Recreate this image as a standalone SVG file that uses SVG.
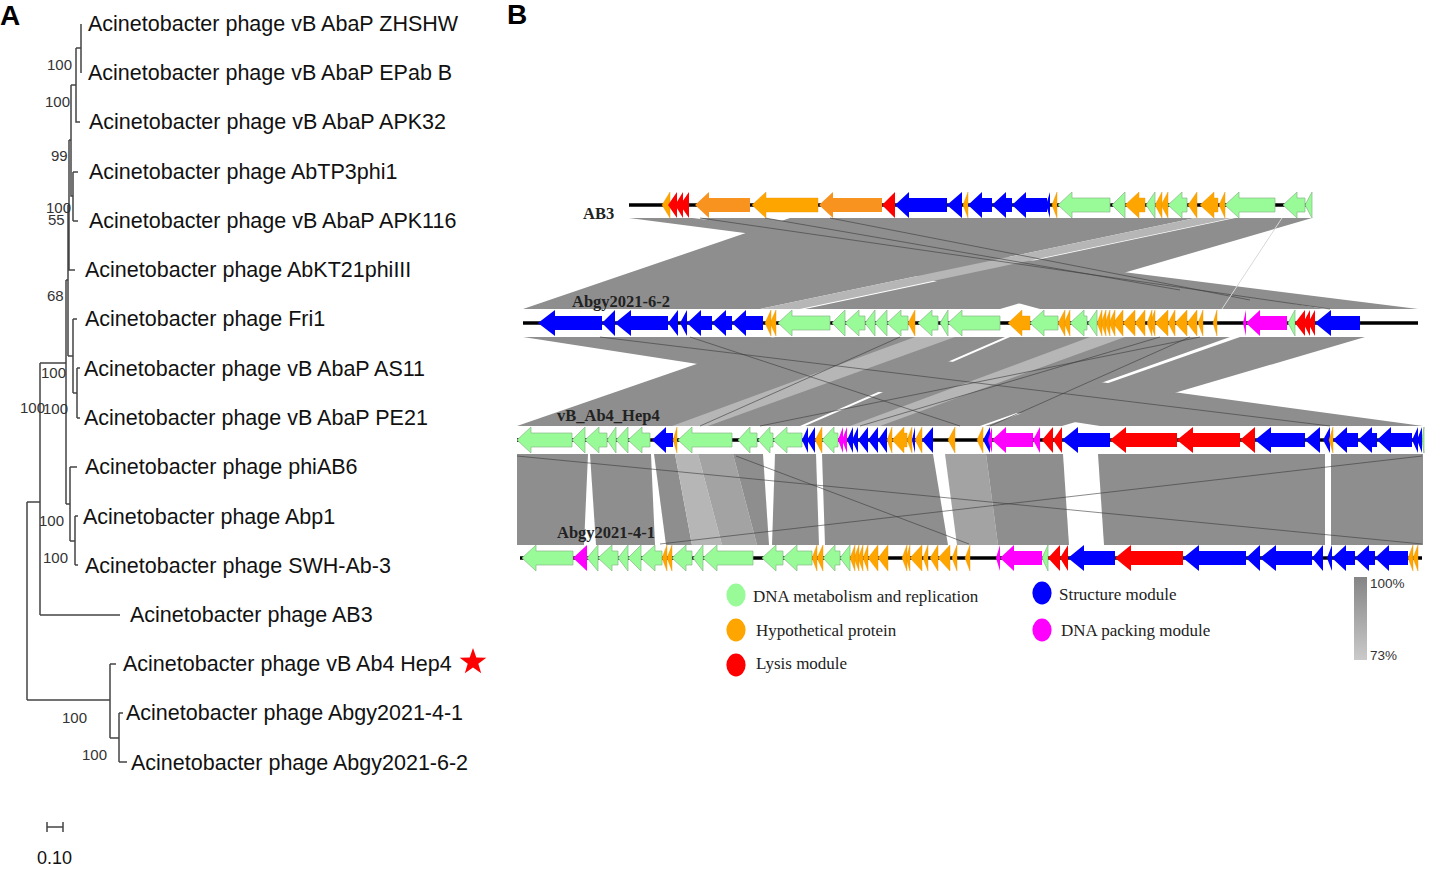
<svg xmlns="http://www.w3.org/2000/svg" width="1432" height="872" viewBox="0 0 1432 872">
<style>
.tr{stroke:#444;stroke-width:1.5;fill:none}
.tip{font-family:"Liberation Sans",Arial,sans-serif;font-size:21.5px;fill:#111}
.bs{font-family:"Liberation Sans",Arial,sans-serif;font-size:15px;fill:#333}
.pl{font-family:"Liberation Sans",Arial,sans-serif;font-size:28px;font-weight:bold;fill:#000}
.g{fill:#98fb98;stroke:#86b886;stroke-width:.7}
.o{fill:#ffa500;stroke:#e89400;stroke-width:.4}
.od{fill:#f7931e}
.r{fill:#ff0000}
.b{fill:#0000ff}
.m{fill:#ff00ff}
.bb{stroke:#000;stroke-width:3.5}
.rb{fill:#8e8e8e}
.rl{fill:#b6b6b6}
.rm{fill:#a3a3a3}
.ln{stroke:#3a3a3a;stroke-width:.8;fill:none;opacity:.75}
.lnw{stroke:#d8d8d8;stroke-width:1;fill:none}
.lab{font-family:"Liberation Serif","Times New Roman",serif;font-size:16.5px;font-weight:bold;fill:#222}
.leg{font-family:"Liberation Serif","Times New Roman",serif;font-size:17px;fill:#222}
.pct{font-family:"Liberation Sans",Arial,sans-serif;font-size:13.5px;fill:#333}
</style>
<defs>
<linearGradient id="idg" x1="0" y1="0" x2="0" y2="1">
<stop offset="0" stop-color="#858585"/>
<stop offset="1" stop-color="#cacaca"/>
</linearGradient>
</defs>
<rect width="1432" height="872" fill="#fff"/>

<g id="panelA">
<text class="pl" x="0" y="25">A</text>
<g id="tree-connectors" class="tr">
<path d="M81 24V73M76 48H81M76 48V122H80M71 85H76M73 172V221M73 172H78M73 221H78M71 85V196H73M69 140H71M69 140V270H75M68 205V356M68 205H69M68 356H73M73 319V393M73 319H77M73 393H77M77 368V418M77 368H80M77 418H80M66 280V504M66 280H68M66 504H70M70 467V541M70 467H77M70 541H75M75 516V565M75 516H78M75 565H78M40 363V615M40 363H66M40 615H120M27 502V700M27 502H40M27 700H110M110 664V738M110 664H116M110 738H119M119 713V762M119 713H123M119 762H127"/>
</g>
<g id="bootstrap">
<text class="bs" x="47" y="70">100</text>
<text class="bs" x="45" y="107">100</text>
<text class="bs" x="51" y="161">99</text>
<text class="bs" x="46" y="213">100</text>
<text class="bs" x="48" y="225">55</text>
<text class="bs" x="47" y="301">68</text>
<text class="bs" x="41" y="378">100</text>
<text class="bs" x="20" y="413">100</text>
<text class="bs" x="43" y="414">100</text>
<text class="bs" x="39" y="526">100</text>
<text class="bs" x="43" y="563">100</text>
<text class="bs" x="62" y="723">100</text>
<text class="bs" x="82" y="760">100</text>
</g>
<g id="leaf-ZHSHW"><text class="tip" x="88" y="31">Acinetobacter phage vB AbaP ZHSHW</text></g>
<g id="leaf-EPabB"><text class="tip" x="88" y="80">Acinetobacter phage vB AbaP EPab B</text></g>
<g id="leaf-APK32"><text class="tip" x="89" y="129">Acinetobacter phage vB AbaP APK32</text></g>
<g id="leaf-AbTP3phi1"><text class="tip" x="89" y="179">Acinetobacter phage AbTP3phi1</text></g>
<g id="leaf-APK116"><text class="tip" x="89" y="228">Acinetobacter phage vB AbaP APK116</text></g>
<g id="leaf-AbKT21phiIII"><text class="tip" x="85" y="277">Acinetobacter phage AbKT21phiIII</text></g>
<g id="leaf-Fri1"><text class="tip" x="85" y="326">Acinetobacter phage Fri1</text></g>
<g id="leaf-AS11"><text class="tip" x="84" y="376">Acinetobacter phage vB AbaP AS11</text></g>
<g id="leaf-PE21"><text class="tip" x="84" y="425">Acinetobacter phage vB AbaP PE21</text></g>
<g id="leaf-phiAB6"><text class="tip" x="85" y="474">Acinetobacter phage phiAB6</text></g>
<g id="leaf-Abp1"><text class="tip" x="83" y="524">Acinetobacter phage Abp1</text></g>
<g id="leaf-SWH"><text class="tip" x="85" y="573">Acinetobacter phage SWH-Ab-3</text></g>
<g id="leaf-AB3"><text class="tip" x="130" y="622">Acinetobacter phage AB3</text></g>
<g id="leaf-Hep4"><text class="tip" x="123" y="671">Acinetobacter phage vB Ab4 Hep4</text>
<polygon fill="#ff0000" transform="translate(2,0)" points="471,648 474.3,657.5 484.3,657.7 476.3,663.7 479.2,673.3 471,667.6 462.8,673.3 465.7,663.7 457.7,657.7 467.7,657.5"/></g>
<g id="leaf-Abgy2021-4-1"><text class="tip" x="126" y="720">Acinetobacter phage Abgy2021-4-1</text></g>
<g id="leaf-Abgy2021-6-2"><text class="tip" x="131" y="770">Acinetobacter phage Abgy2021-6-2</text></g>
<g id="scalebar">
<path class="tr" d="M47 827H63M47 822V832M63 822V832"/>
<text class="tip" style="font-size:18px" x="37" y="864">0.10</text>
</g>
</g>

<g id="panelB">
<text class="pl" x="507" y="24">B</text>
<g id="connectors">
<g id="ribbons-AB3-6-2">
<polygon class="rb" points="629,218 693,218 1418,309 1330,309"/>
<polygon class="rb" points="700,218 765,218 1325,309 1040,309"/>
<polygon class="rb" points="790,218 1195,218 760,309 523,309"/>
<polygon class="rb" points="1235,218 1312,218 1000,309 805,309"/>
<polygon class="rl" points="1195,218 1232,218 800,309 760,309"/>
<path class="ln" d="M700 218L1330 309M765 218L1180 290M830 218L1250 300"/>
<path class="lnw" d="M1282 218L1222 309"/>
</g>
<g id="ribbons-6-2-Hep4">
<polygon class="rb" points="523,337 770,337 1423,426 1100,426"/>
<polygon class="rb" points="775,337 1005,337 800,426 517,426"/>
<polygon class="rb" points="1010,337 1230,337 980,426 805,426"/>
<polygon class="rb" points="1240,337 1365,337 1062,426 985,426"/>
<polygon class="rl" points="915,337 955,337 708,426 672,426"/>
<polygon class="rl" points="1090,337 1125,337 880,426 850,426"/>
<path class="ln" d="M600 337L1330 426M900 337L700 426M1200 337L760 426M1190 337L990 426M690 337L960 426M1160 337L860 426"/>
</g>
<g id="ribbons-Hep4-4-1">
<polygon class="rb" points="517,454 588,454 584,545 517,545"/>
<polygon class="rb" points="590,454 651,454 655,545 596,545"/>
<polygon class="rb" points="654,454 675,454 692,545 666,545"/>
<polygon class="rl" points="675,454 698,454 722,545 692,545"/>
<polygon class="rm" points="698,454 733,454 757,545 722,545"/>
<polygon class="rb" points="733,454 763,454 769,545 757,545"/>
<polygon class="rb" points="775,454 816,454 819,545 772,545"/>
<polygon class="rb" points="822,454 933,454 948,545 825,545"/>
<polygon class="rm" points="945,454 986,454 998,545 957,545"/>
<polygon class="rb" points="986,454 1063,454 1069,545 998,545"/>
<polygon class="rb" points="1098,454 1325,454 1325,545 1104,545"/>
<polygon class="rb" points="1331,454 1423,454 1423,545 1331,545"/>
<path class="ln" d="M517 456L1422 544M660 544L1422 456M736 456L969 544"/>
</g>
</g>

<g id="track-AB3" transform="translate(0,205)">
<path class="bb" d="M629 0H1312"/>
<path class="od" d="M695 0L709-13V-7H750V7H709V13zM819 0L833-13V-7H882V7H833V13z"/>
<path class="o" d="M662 0L670-13V13zM752 0L766-13V-7H818V7H766V13zM963 0L968-13V13zM1052 0L1057-13V13zM1125 0L1139-13V-7H1145V7H1139V13zM1155 0L1162-13V13zM1161 0L1168-13V13zM1188 0L1197-13V13zM1200 0L1214-13V-7H1218V7H1214V13zM1219 0L1225-13V13z"/>
<path class="r" d="M668 0L677-13V13zM675 0L683-13V13zM680 0L689-13V13zM882 0L895-13V13z"/>
<path class="b" d="M895 0L909-13V-7H947V7H909V13zM947 0L962-13V13zM968 0L982-13V-7H992V7H982V13zM992 0L1006-13V-7H1012V7H1006V13zM1012 0L1026-13V-7H1047V7H1026V13zM1046 0L1050-13V13z"/>
<path class="g" d="M1058 0L1072-13V-7H1110V7H1072V13zM1112 0L1125-13V13zM1146 0L1155-13V13zM1168 0L1182-13V-7H1187V7H1182V13zM1225 0L1239-13V-7H1275V7H1239V13zM1283 0L1297-13V-7H1305V7H1297V13zM1305 0L1312-13V13z"/>
</g>

<g id="track-Abgy2021-6-2" transform="translate(0,323)">
<path class="bb" d="M523 0H1418"/>
<path class="b" d="M538 0L555-13V-7H602V7H555V13zM602 0L615-13V13zM615 0L631-13V-7H668V7H631V13zM668 0L678-13V13zM680 0L687-13V13zM687 0L701-13V-7H712V7H701V13zM712 0L726-13V-7H732V7H726V13zM732 0L746-13V-7H763V7H746V13zM1315 0L1331-13V-7H1360V7H1331V13z"/>
<path class="o" d="M765 0L771-13V13zM770 0L776-13V13zM908 0L915-13V13zM1008 0L1022-13V-7H1030V7H1022V13zM1058 0L1065-13V13zM1064 0L1070-13V13zM1097 0L1102-13V13zM1101 0L1106-13V13zM1105 0L1110-13V13zM1109 0L1115-13V13zM1113 0L1123-13V13zM1123 0L1135-13V13zM1135 0L1145-13V13zM1147 0L1152-13V13zM1150 0L1155-13V13zM1155 0L1168-13V13zM1168 0L1175-13V13zM1175 0L1187-13V13zM1187 0L1197-13V13zM1198 0L1203-13V13zM1213 0L1217-13V13z"/>
<path class="g" d="M778 0L792-13V-7H830V7H792V13zM832 0L845-13V13zM845 0L859-13V-7H865V7H859V13zM865 0L875-13V13zM875 0L887-13V13zM887 0L901-13V-7H908V7H901V13zM918 0L932-13V-7H938V7H932V13zM940 0L948-13V13zM948 0L962-13V-7H1000V7H962V13zM1030 0L1044-13V-7H1058V7H1044V13zM1070 0L1084-13V-7H1087V7H1084V13zM1088 0L1097-13V13zM1288 0L1295-13V13z"/>
<path class="m" d="M1243 0L1246-13V13zM1246 0L1260-13V-7H1287V7H1260V13z"/>
<path class="r" d="M1295 0L1305-13V13zM1303 0L1310-13V13zM1308 0L1315-13V13z"/>
</g>

<g id="track-vB_Ab4_Hep4" transform="translate(0,440)">
<path class="bb" d="M517 0H1423"/>
<path class="g" d="M517 0L531-13V-7H572V7H531V13zM572 0L585-13V13zM585 0L599-13V-7H607V7H599V13zM607 0L616-13V13zM616 0L628-13V13zM628 0L642-13V-7H650V7H642V13zM678 0L692-13V-7H732V7H692V13zM738 0L750-13V-7H757V7H750V13zM758 0L770-13V-7H773V7H770V13zM773 0L787-13V-7H802V7H787V13zM822 0L834-13V-7H838V7H834V13zM1422 0L1424-13V13z"/>
<path class="b" d="M652 0L666-13V-7H673V7H666V13zM802 0L808-13V13zM807 0L815-13V13zM847 0L853-13V13zM852 0L858-13V13zM858 0L868-13V13zM868 0L878-13V13zM878 0L887-13V13zM912 0L915-13V13zM922 0L933-13V13zM983 0L990-13V13zM1062 0L1078-13V-7H1110V7H1078V13zM1255 0L1271-13V-7H1305V7H1271V13zM1305 0L1320-13V13zM1323 0L1330-13V13zM1333 0L1347-13V-7H1358V7H1347V13zM1358 0L1372-13V-7H1377V7H1372V13zM1377 0L1391-13V-7H1412V7H1391V13zM1412 0L1418-13V13zM1417 0L1422-13V13z"/>
<path class="o" d="M673 0L677-13V13zM815 0L822-13V13zM887 0L892-13V13zM892 0L904-13V-7H907V7H904V13zM907 0L912-13V13zM915 0L922-13V13zM948 0L955-13V13zM977 0L983-13V13zM1329 0L1333-13V13z"/>
<path class="m" d="M838 0L843-13V13zM842 0L847-13V13zM988 0L992-13V13zM992 0L1006-13V-7H1033V7H1006V13zM1033 0L1040-13V13z"/>
<path class="r" d="M1042 0L1053-13V13zM1053 0L1062-13V13zM1110 0L1126-13V-7H1177V7H1126V13zM1177 0L1193-13V-7H1240V7H1193V13zM1240 0L1255-13V13z"/>
</g>

<g id="track-Abgy2021-4-1" transform="translate(0,558)">
<path class="bb" d="M520 0H1422"/>
<path class="g" d="M522 0L536-13V-7H573V7H536V13zM587 0L598-13V13zM598 0L612-13V-7H618V7H612V13zM618 0L628-13V13zM628 0L641-13V13zM641 0L655-13V-7H662V7H655V13zM672 0L686-13V-7H692V7H686V13zM693 0L703-13V13zM703 0L717-13V-7H753V7H717V13zM762 0L776-13V-7H783V7H776V13zM783 0L797-13V-7H812V7H797V13zM823 0L835-13V-7H840V7H835V13zM840 0L850-13V13zM1042 0L1048-13V13z"/>
<path class="m" d="M573 0L587-13V13zM996 0L1000-13V13zM1000 0L1014-13V-7H1042V7H1014V13z"/>
<path class="o" d="M662 0L667-13V13zM667 0L672-13V13zM812 0L817-13V13zM817 0L823-13V13zM850 0L855-13V13zM854 0L859-13V13zM858 0L863-13V13zM863 0L868-13V13zM868 0L878-13V13zM878 0L888-13V13zM902 0L907-13V13zM906 0L910-13V13zM910 0L922-13V13zM923 0L928-13V13zM930 0L938-13V13zM938 0L950-13V13zM952 0L957-13V13zM965 0L970-13V13zM1408 0L1413-13V13zM1413 0L1418-13V13z"/>
<path class="r" d="M1048 0L1060-13V13zM1060 0L1068-13V13zM1115 0L1131-13V-7H1183V7H1131V13z"/>
<path class="b" d="M1068 0L1084-13V-7H1115V7H1084V13zM1183 0L1199-13V-7H1246V7H1199V13zM1246 0L1260-13V13zM1260 0L1276-13V-7H1312V7H1276V13zM1312 0L1323-13V13zM1327 0L1332-13V13zM1332 0L1346-13V-7H1355V7H1346V13zM1355 0L1369-13V-7H1375V7H1369V13zM1375 0L1389-13V-7H1408V7H1389V13z"/>
</g>

<g id="track-labels">
<text class="lab" x="583" y="219">AB3</text>
<text class="lab" x="572" y="307">Abgy2021-6-2</text>
<text class="lab" x="557" y="421">vB_Ab4_Hep4</text>
<text class="lab" x="557" y="538">Abgy2021-4-1</text>
</g>

<g id="legend">
<g id="leg-dna"><ellipse cx="736" cy="595" rx="9.6" ry="11.4" fill="#98fb98"/><text class="leg" x="753" y="602">DNA metabolism and replication</text></g>
<g id="leg-hyp"><ellipse cx="736" cy="630" rx="9.6" ry="11.4" fill="#ffa500"/><text class="leg" x="756" y="636">Hypothetical protein</text></g>
<g id="leg-lysis"><ellipse cx="736" cy="665" rx="9.6" ry="11.4" fill="#ff0000"/><text class="leg" x="756" y="669">Lysis module</text></g>
<g id="leg-struct"><ellipse cx="1042" cy="593" rx="9.6" ry="11.4" fill="#0000ff"/><text class="leg" x="1059" y="600">Structure module</text></g>
<g id="leg-pack"><ellipse cx="1042" cy="630" rx="9.6" ry="11.4" fill="#ff00ff"/><text class="leg" x="1061" y="636">DNA packing module</text></g>
<g id="leg-identity"><rect x="1354" y="577" width="13" height="83" fill="url(#idg)"/>
<text class="pct" x="1370" y="588">100%</text>
<text class="pct" x="1370" y="660">73%</text></g>
</g>
</g>
</svg>
